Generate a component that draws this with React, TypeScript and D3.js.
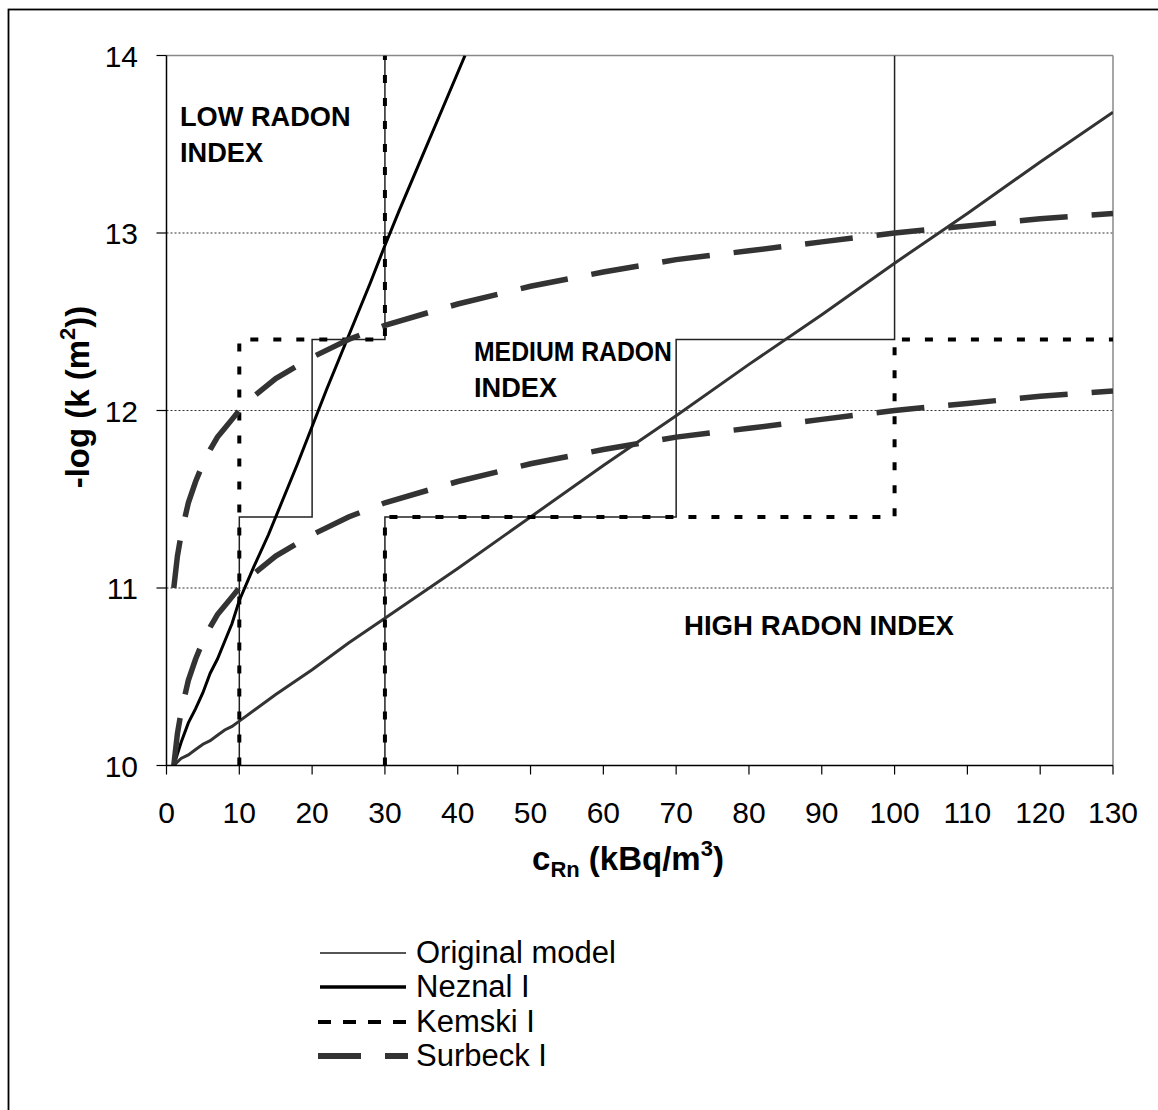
import React from "react";
import * as d3 from "d3";

// ---- data ----
const xTicks = [0, 10, 20, 30, 40, 50, 60, 70, 80, 90, 100, 110, 120, 130];
const yTicks = [10, 11, 12, 13, 14];
const gridValues = [11, 12, 13];

// Original model: class boundaries (thin)
const originalLow: [number, number][] = [[10, 10], [10, 11.4], [20, 11.4], [20, 12.4], [30, 12.4], [30, 14]];
const originalHigh: [number, number][] = [[30, 10], [30, 11.4], [70, 11.4], [70, 12.4], [100, 12.4], [100, 14]];

// Kemski I boundaries (dotted)
const kemskiLow: [number, number][] = [[10, 10], [10, 12.4], [30, 12.4], [30, 14]];
const kemskiHigh: [number, number][] = [[30, 10], [30, 11.4], [100, 11.4], [100, 12.4], [130, 12.4]];

// Neznal I boundaries
const neznalSteepX = [1, 2, 3, 4, 5, 6, 7, 8, 9, 10, 12, 14, 16, 18, 20, 22, 24, 26, 28, 30, 32, 35, 38, 41];
const neznalSteepY = [10.0, 10.13, 10.24, 10.32, 10.41, 10.52, 10.6, 10.7, 10.8, 10.93, 11.12, 11.3, 11.5, 11.7, 11.91, 12.12, 12.32, 12.52, 12.72, 12.93, 13.13, 13.42, 13.71, 14.0];
const neznalFlatX = [1, 2, 3, 4, 5, 6, 7, 8, 9, 10, 15, 20, 25, 30, 40, 50, 60, 70, 80, 90, 100, 110, 120, 130];
const neznalFlatY = [10.0, 10.04, 10.06, 10.09, 10.12, 10.14, 10.17, 10.2, 10.22, 10.25, 10.4, 10.54, 10.69, 10.83, 11.11, 11.4, 11.69, 11.97, 12.26, 12.54, 12.83, 13.11, 13.4, 13.68];

// Surbeck I boundaries
const surbeckX = [1, 1.5, 2, 3, 4, 5, 6, 7, 8, 9, 10, 12, 15, 20, 25, 30, 40, 50, 60, 70, 80, 90, 100, 110, 120, 130];
const surbeckUpper = [11.0, 11.18, 11.3, 11.48, 11.6, 11.7, 11.78, 11.85, 11.9, 11.95, 12.0, 12.08, 12.18, 12.3, 12.4, 12.48, 12.6, 12.7, 12.78, 12.85, 12.9, 12.95, 13.0, 13.04, 13.08, 13.11];
const surbeckLower = [10.0, 10.18, 10.3, 10.48, 10.6, 10.7, 10.78, 10.85, 10.9, 10.95, 11.0, 11.08, 11.18, 11.3, 11.4, 11.48, 11.6, 11.7, 11.78, 11.85, 11.9, 11.95, 12.0, 12.04, 12.08, 12.11];

const legendItems = ["Original model", "Neznal I", "Kemski I", "Surbeck I"];

const FONT = "'Liberation Sans', Arial, sans-serif";

export default function App() {
  const x = d3.scaleLinear().domain([0, 130]).range([166.5, 1113]);
  const y = d3.scaleLinear().domain([10, 14]).range([765.5, 55.5]);
  const line = d3.line<[number, number]>().x((d) => x(d[0])).y((d) => y(d[1]));
  const zip = (xs: number[], ys: number[]) => xs.map((v, i) => [v, ys[i]] as [number, number]);

  const boundaryStyle = { fill: "none", stroke: "#222", strokeWidth: 1.5 };
  const kemskiStyle = { fill: "none", stroke: "#000", strokeWidth: 4, strokeDasharray: "8,15" };
  const surbeckStyle = { fill: "none", stroke: "#333", strokeWidth: 5.5, strokeDasharray: "48,24" };

  const legendY = [953, 987, 1022, 1056];
  const legendBase = [963, 997, 1032, 1066];

  return (
    <svg width={1158} height={1110} style={{ position: "absolute", left: 0, top: 0, background: "#fff" }} fontFamily={FONT}>
      <defs>
        <clipPath id="plot">
          <rect x={x(0)} y={y(14)} width={x(130) - x(0)} height={y(10) - y(14)} />
        </clipPath>
      </defs>
      <rect x={0} y={0} width={1158} height={1110} fill="#fff" />
      <rect x={8.5} y={9.5} width={1300} height={1300} fill="none" stroke="#000" strokeWidth={1.8} />

      {/* gridlines */}
      {gridValues.map((v) => (
        <line key={v} x1={x(0)} x2={x(130)} y1={y(v)} y2={y(v)} stroke="#333" strokeWidth={1} strokeDasharray="2,2" />
      ))}
      {/* plot border top/right */}
      <line x1={x(0)} x2={x(130)} y1={y(14)} y2={y(14)} stroke="#888" strokeWidth={1.5} />
      <line x1={x(130)} x2={x(130)} y1={y(14)} y2={y(10)} stroke="#888" strokeWidth={1.5} />

      <g clipPath="url(#plot)">
        <path d={line(originalLow) || ""} {...boundaryStyle} />
        <path d={line(originalHigh) || ""} {...boundaryStyle} />
        <path d={line(zip(neznalFlatX, neznalFlatY)) || ""} fill="none" stroke="#333" strokeWidth={3} />
        <path d={line(zip(neznalSteepX, neznalSteepY)) || ""} fill="none" stroke="#000" strokeWidth={3} />
        <path d={line(kemskiLow) || ""} {...kemskiStyle} />
        <path d={line(kemskiHigh) || ""} {...kemskiStyle} />
        <path d={line(zip(surbeckX, surbeckUpper)) || ""} {...surbeckStyle} />
        <path d={line(zip(surbeckX, surbeckLower)) || ""} {...surbeckStyle} />
      </g>

      {/* axes */}
      <line x1={x(0)} x2={x(0)} y1={y(14)} y2={y(10)} stroke="#000" strokeWidth={1.5} />
      <line x1={x(0)} x2={x(130)} y1={y(10)} y2={y(10)} stroke="#000" strokeWidth={1.5} />
      {yTicks.map((t) => (
        <g key={t}>
          <line x1={x(0) - 10} x2={x(0)} y1={y(t)} y2={y(t)} stroke="#000" strokeWidth={1.2} />
          <text x={138} y={y(t) + 11} textAnchor="end" fontSize={30}>{t}</text>
        </g>
      ))}
      {xTicks.map((t) => (
        <g key={t}>
          <line x1={x(t)} x2={x(t)} y1={y(10)} y2={y(10) + 9} stroke="#000" strokeWidth={1.2} />
          <text x={x(t)} y={823} textAnchor="middle" fontSize={30}>{t}</text>
        </g>
      ))}

      {/* axis titles */}
      <text transform="translate(89,397) rotate(-90)" textAnchor="middle" fontSize={33} fontWeight="bold">
        -log (k (m<tspan fontSize={22} dy={-14}>2</tspan><tspan dy={14}>))</tspan>
      </text>
      <text x={628} y={870} textAnchor="middle" fontSize={33} fontWeight="bold">
        c<tspan fontSize={22} dy={7}>Rn</tspan><tspan dy={-7}> (kBq/m</tspan><tspan fontSize={22} dy={-14}>3</tspan><tspan dy={14}>)</tspan>
      </text>

      {/* region labels */}
      <g fontSize={27.2} fontWeight="bold">
        <text x={180} y={126}>LOW RADON</text>
        <text x={180} y={162}>INDEX</text>
        <text x={474} y={361} textLength={198} lengthAdjust="spacingAndGlyphs">MEDIUM RADON</text>
        <text x={474} y={397}>INDEX</text>
        <text x={684} y={635} textLength={270} lengthAdjust="spacingAndGlyphs">HIGH RADON INDEX</text>
      </g>

      {/* legend */}
      <line x1={320} x2={406} y1={legendY[0]} y2={legendY[0]} stroke="#555" strokeWidth={2} />
      <line x1={320} x2={406} y1={legendY[1]} y2={legendY[1]} stroke="#000" strokeWidth={3.5} />
      <line x1={318} x2={406} y1={legendY[2]} y2={legendY[2]} stroke="#000" strokeWidth={4} strokeDasharray="13,12" />
      <line x1={318} x2={408} y1={legendY[3]} y2={legendY[3]} stroke="#333" strokeWidth={6} strokeDasharray="43,24" />
      {legendItems.map((s, i) => (
        <text key={s} x={416} y={legendBase[i]} fontSize={31}>{s}</text>
      ))}
    </svg>
  );
}
